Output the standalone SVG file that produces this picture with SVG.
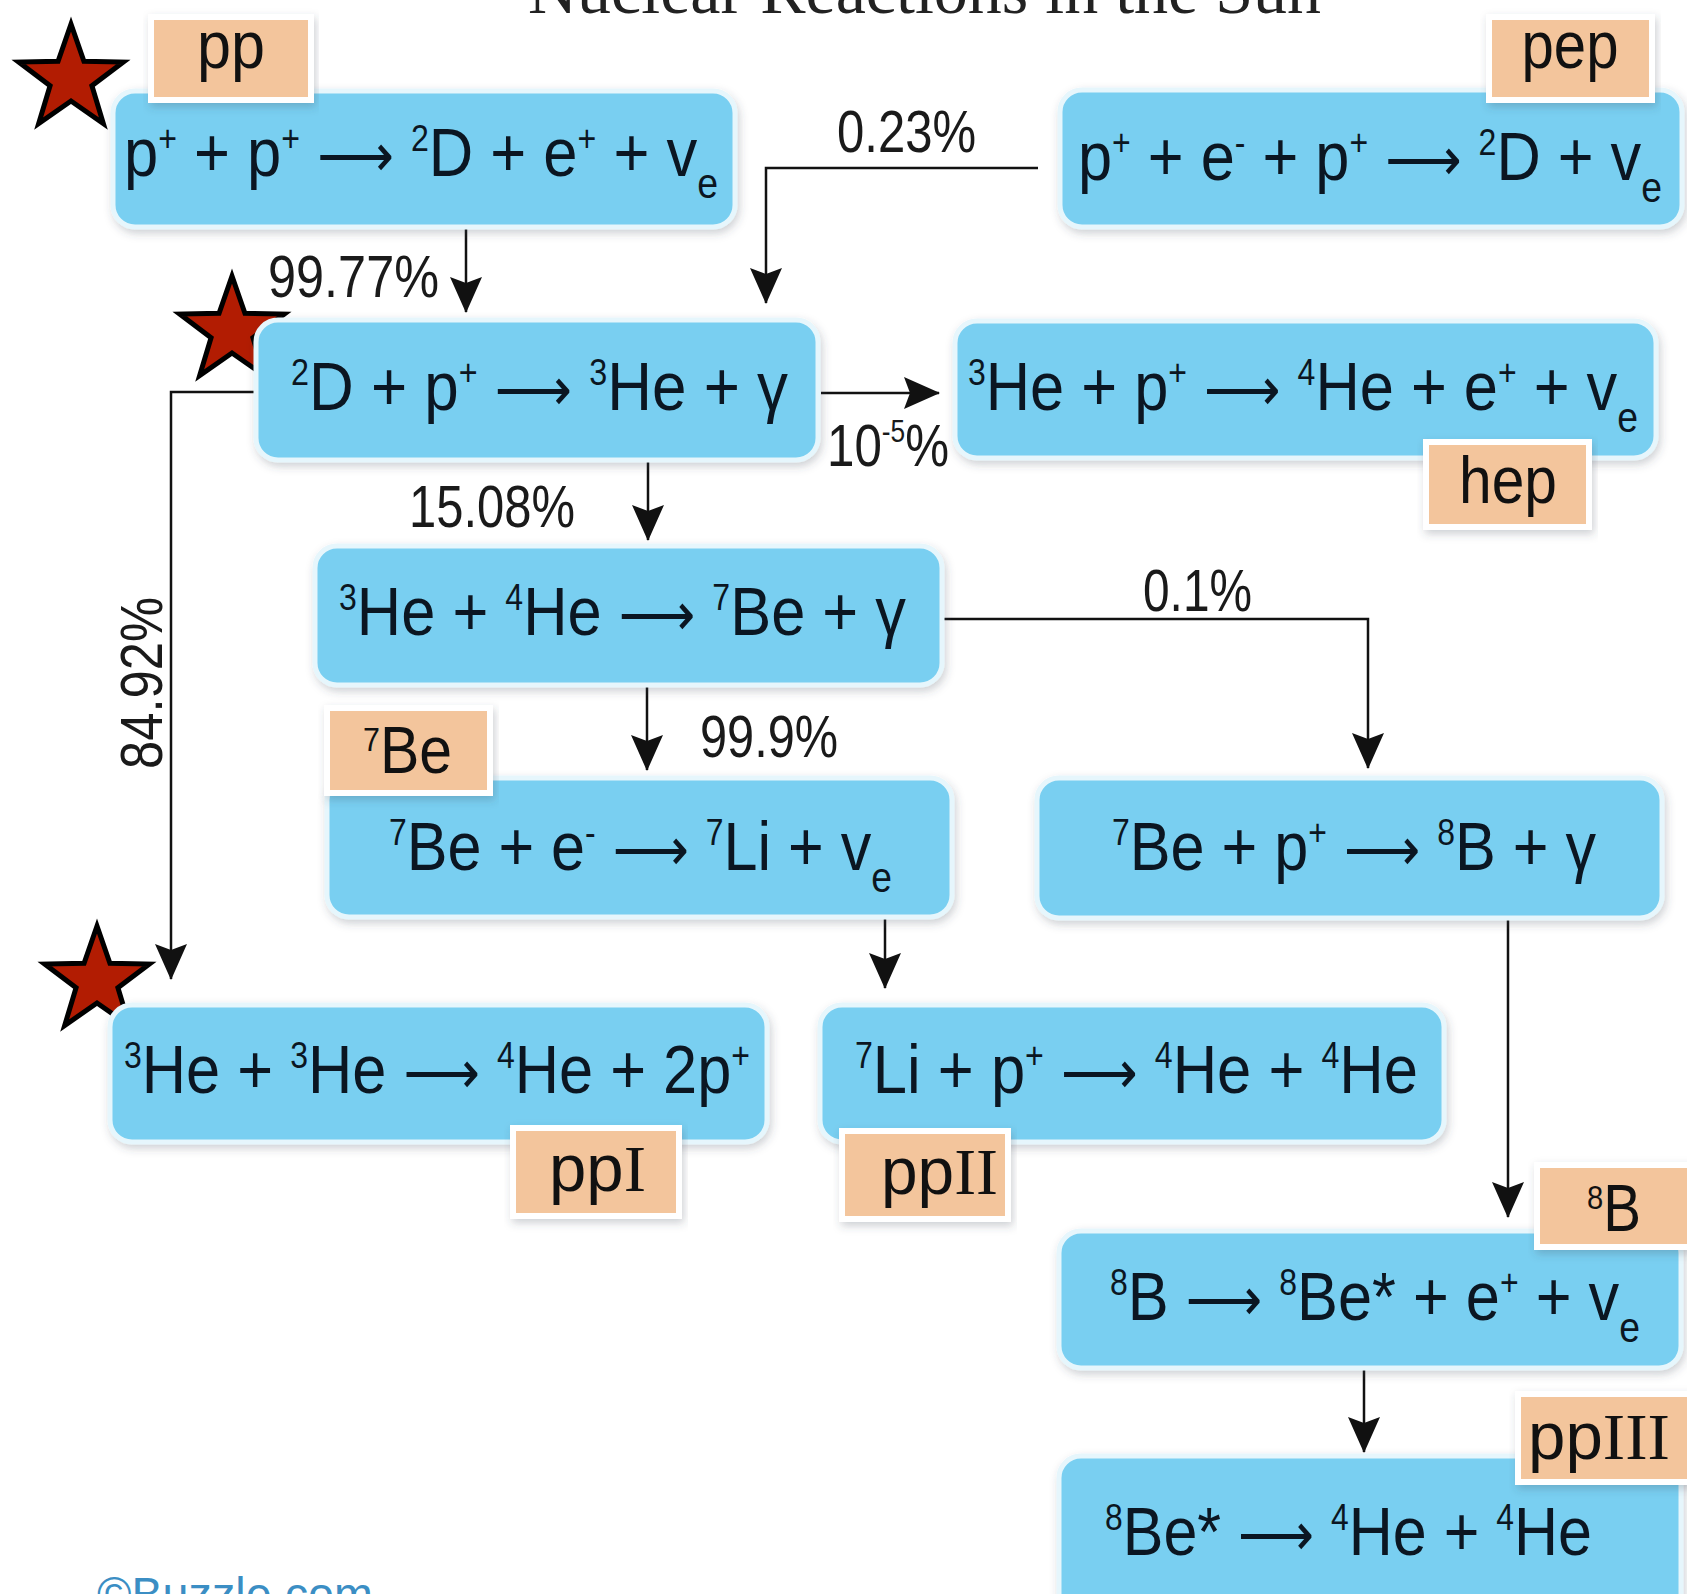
<svg xmlns="http://www.w3.org/2000/svg" width="1687" height="1594" viewBox="0 0 1687 1594">
<defs>
<filter id="sh" x="-5%" y="-10%" width="110%" height="130%">
<feDropShadow dx="2" dy="4" stdDeviation="4" flood-color="#3a4a55" flood-opacity="0.25"/>
</filter>
<marker id="ah" markerUnits="userSpaceOnUse" markerWidth="36" markerHeight="32" viewBox="0 0 36 32" refX="35" refY="16" orient="auto">
<path d="M0,0 L36,16 L0,32 L6,16 Z" fill="#111"/>
</marker>
<polygon id="star" points="0,-55 12.93,-17.8 52.31,-17 20.92,6.8 32.33,44.5 0,22 -32.33,44.5 -20.92,6.8 -52.31,-17 -12.93,-17.8" fill="#b21c02" stroke="#000" stroke-width="5" stroke-linejoin="miter"/>
</defs>
<style>
.box{fill:#79cff1;stroke:#e6f6fc;stroke-width:5;filter:url(#sh)}
.tag{fill:#f3c59c;stroke:#ffffff;stroke-width:6;filter:url(#sh)}
.t{font-family:"Liberation Sans",Arial,sans-serif;font-size:69px;fill:#0b1622}
.s{font-size:36px}
.b{font-size:42px}
.a{font-family:"DejaVu Sans","Liberation Sans",sans-serif;font-size:60px}
.g{font-family:"Liberation Sans",Arial,sans-serif;font-size:66px;fill:#111}
.r{font-family:"Liberation Serif","Times New Roman",serif}
.lb{font-family:"Liberation Sans",Arial,sans-serif;font-size:60px;fill:#1a1a1a}
.c{stroke:#111;stroke-width:2.5;fill:none;marker-end:url(#ah)}
</style>
<rect width="1687" height="1594" fill="#ffffff"/>
<text x="528" y="13" font-family="'Liberation Serif','Times New Roman',serif" font-size="68" fill="#222" textLength="793" lengthAdjust="spacingAndGlyphs">Nuclear Reactions in the Sun</text>

<g id="connectors">
<path class="c" d="M466,228 V312"/>
<path class="c" d="M1038,168 H766 V303"/>
<path class="c" d="M821,393 H939"/>
<path class="c" d="M255,392 H171 V979"/>
<path class="c" d="M648,462 V540"/>
<path class="c" d="M647,687 V770"/>
<path class="c" d="M944,619 H1368 V768"/>
<path class="c" d="M885,918 V988"/>
<path class="c" d="M1508,920 V1217"/>
<path class="c" d="M1364,1370 V1452"/>
<text class="lb" x="268" y="297" textLength="171" lengthAdjust="spacingAndGlyphs">99.77%</text>
<text class="lb" x="837" y="152" textLength="139" lengthAdjust="spacingAndGlyphs">0.23%</text>
<text class="lb" x="827" y="466" textLength="122" lengthAdjust="spacingAndGlyphs">10<tspan font-size="32" dy="-24">-5</tspan><tspan dy="24">%</tspan></text>
<text class="lb" x="409" y="527" textLength="166" lengthAdjust="spacingAndGlyphs">15.08%</text>
<text class="lb" x="700" y="757" textLength="138" lengthAdjust="spacingAndGlyphs">99.9%</text>
<text class="lb" x="1143" y="611" textLength="109" lengthAdjust="spacingAndGlyphs">0.1%</text>
<text class="lb" transform="translate(162,683) rotate(-90)" text-anchor="middle" textLength="172" lengthAdjust="spacingAndGlyphs">84.92%</text>
</g>

<g id="star-pp"><use href="#star" transform="translate(71,79)"/></g>
<g id="star-d"><use href="#star" transform="translate(232,331)"/></g>
<g id="star-he3"><use href="#star" transform="translate(97,981)"/></g>

<g id="node-pp">
<rect class="box" x="113" y="91" width="622" height="136" rx="22"/>
<rect class="tag" x="151" y="17" width="160" height="83"/>
<text class="g" x="231" y="68" text-anchor="middle" textLength="68" lengthAdjust="spacingAndGlyphs">pp</text>
<text class="t" x="124" y="176" textLength="594" lengthAdjust="spacingAndGlyphs">p<tspan class="s" dy="-25">+</tspan><tspan dy="25"> + p</tspan><tspan class="s" dy="-25">+</tspan><tspan dy="25"> </tspan><tspan class="a">⟶</tspan><tspan> </tspan><tspan class="s" dy="-25">2</tspan><tspan dy="25">D + e</tspan><tspan class="s" dy="-25">+</tspan><tspan dy="25"> + v</tspan><tspan class="b" dy="22">e</tspan></text>
</g>

<g id="node-pep">
<rect class="box" x="1060" y="90" width="622" height="137" rx="22"/>
<rect class="tag" x="1489" y="17" width="163" height="83"/>
<text class="g" x="1570" y="68" text-anchor="middle" textLength="97" lengthAdjust="spacingAndGlyphs">pep</text>
<text class="t" x="1078" y="180" textLength="584" lengthAdjust="spacingAndGlyphs">p<tspan class="s" dy="-25">+</tspan><tspan dy="25"> + e</tspan><tspan class="s" dy="-25">-</tspan><tspan dy="25"> + p</tspan><tspan class="s" dy="-25">+</tspan><tspan dy="25"> </tspan><tspan class="a">⟶</tspan><tspan> </tspan><tspan class="s" dy="-25">2</tspan><tspan dy="25">D + v</tspan><tspan class="b" dy="22">e</tspan></text>
</g>

<g id="node-d">
<rect class="box" x="256" y="320" width="562" height="140" rx="22"/>
<text class="t" x="291" y="410" textLength="497" lengthAdjust="spacingAndGlyphs"><tspan class="s" dy="-25">2</tspan><tspan dy="25">D + p</tspan><tspan class="s" dy="-25">+</tspan><tspan dy="25"> </tspan><tspan class="a">⟶</tspan><tspan> </tspan><tspan class="s" dy="-25">3</tspan><tspan dy="25">He + γ</tspan></text>
</g>

<g id="node-hep">
<rect class="box" x="955" y="321" width="701" height="137" rx="22"/>
<rect class="tag" x="1426" y="442" width="163" height="85"/>
<text class="g" x="1508" y="503" text-anchor="middle" textLength="98" lengthAdjust="spacingAndGlyphs">hep</text>
<text class="t" x="968" y="410" textLength="670" lengthAdjust="spacingAndGlyphs"><tspan class="s" dy="-25">3</tspan><tspan dy="25">He + p</tspan><tspan class="s" dy="-25">+</tspan><tspan dy="25"> </tspan><tspan class="a">⟶</tspan><tspan> </tspan><tspan class="s" dy="-25">4</tspan><tspan dy="25">He + e</tspan><tspan class="s" dy="-25">+</tspan><tspan dy="25"> + v</tspan><tspan class="b" dy="22">e</tspan></text>
</g>

<g id="node-be7">
<rect class="box" x="315" y="546" width="627" height="139" rx="22"/>
<text class="t" x="339" y="635" textLength="567" lengthAdjust="spacingAndGlyphs"><tspan class="s" dy="-25">3</tspan><tspan dy="25">He + </tspan><tspan class="s" dy="-25">4</tspan><tspan dy="25">He </tspan><tspan class="a">⟶</tspan><tspan> </tspan><tspan class="s" dy="-25">7</tspan><tspan dy="25">Be + γ</tspan></text>
</g>

<g id="node-li7">
<rect class="box" x="327" y="778" width="625" height="139" rx="22"/>
<rect class="tag" x="327" y="708" width="163" height="85"/>
<text class="g" x="363" y="773" textLength="89" lengthAdjust="spacingAndGlyphs"><tspan font-size="34" dy="-22">7</tspan><tspan dy="22">Be</tspan></text>
<text class="t" x="389" y="870" textLength="503" lengthAdjust="spacingAndGlyphs"><tspan class="s" dy="-25">7</tspan><tspan dy="25">Be + e</tspan><tspan class="s" dy="-25">-</tspan><tspan dy="25"> </tspan><tspan class="a">⟶</tspan><tspan> </tspan><tspan class="s" dy="-25">7</tspan><tspan dy="25">Li + v</tspan><tspan class="b" dy="22">e</tspan></text>
</g>

<g id="node-b8">
<rect class="box" x="1037" y="778" width="625" height="140" rx="22"/>
<text class="t" x="1112" y="870" textLength="484" lengthAdjust="spacingAndGlyphs"><tspan class="s" dy="-25">7</tspan><tspan dy="25">Be + p</tspan><tspan class="s" dy="-25">+</tspan><tspan dy="25"> </tspan><tspan class="a">⟶</tspan><tspan> </tspan><tspan class="s" dy="-25">8</tspan><tspan dy="25">B + γ</tspan></text>
</g>

<g id="node-ppI">
<rect class="box" x="110" y="1005" width="657" height="137" rx="22"/>
<rect class="tag" x="513" y="1128" width="166" height="88"/>
<text class="g" x="549" y="1191" textLength="97" lengthAdjust="spacingAndGlyphs">pp<tspan class="r">I</tspan></text>
<text class="t" x="124" y="1093" textLength="626" lengthAdjust="spacingAndGlyphs"><tspan class="s" dy="-25">3</tspan><tspan dy="25">He + </tspan><tspan class="s" dy="-25">3</tspan><tspan dy="25">He </tspan><tspan class="a">⟶</tspan><tspan> </tspan><tspan class="s" dy="-25">4</tspan><tspan dy="25">He + 2p</tspan><tspan class="s" dy="-25">+</tspan></text>
</g>

<g id="node-ppII">
<rect class="box" x="820" y="1005" width="624" height="137" rx="22"/>
<rect class="tag" x="842" y="1131" width="166" height="88"/>
<text class="g" x="881" y="1194" textLength="117" lengthAdjust="spacingAndGlyphs">pp<tspan class="r">II</tspan></text>
<text class="t" x="855" y="1093" textLength="563" lengthAdjust="spacingAndGlyphs"><tspan class="s" dy="-25">7</tspan><tspan dy="25">Li + p</tspan><tspan class="s" dy="-25">+</tspan><tspan dy="25"> </tspan><tspan class="a">⟶</tspan><tspan> </tspan><tspan class="s" dy="-25">4</tspan><tspan dy="25">He + </tspan><tspan class="s" dy="-25">4</tspan><tspan dy="25">He</tspan></text>
</g>

<g id="node-b8decay">
<rect class="box" x="1059" y="1231" width="622" height="137" rx="22"/>
<rect class="tag" x="1537" y="1165" width="170" height="82"/>
<text class="g" x="1587" y="1231" textLength="54" lengthAdjust="spacingAndGlyphs"><tspan font-size="34" dy="-22">8</tspan><tspan dy="22">B</tspan></text>
<text class="t" x="1110" y="1320" textLength="530" lengthAdjust="spacingAndGlyphs"><tspan class="s" dy="-25">8</tspan><tspan dy="25">B </tspan><tspan class="a">⟶</tspan><tspan> </tspan><tspan class="s" dy="-25">8</tspan><tspan dy="25">Be* + e</tspan><tspan class="s" dy="-25">+</tspan><tspan dy="25"> + v</tspan><tspan class="b" dy="22">e</tspan></text>
</g>

<g id="node-ppIII">
<rect class="box" x="1059" y="1456" width="622" height="170" rx="22"/>
<rect class="tag" x="1518" y="1394" width="180" height="88"/>
<text class="g" x="1528" y="1459" textLength="142" lengthAdjust="spacingAndGlyphs">pp<tspan class="r">III</tspan></text>
<text class="t" x="1105" y="1555" textLength="487" lengthAdjust="spacingAndGlyphs"><tspan class="s" dy="-25">8</tspan><tspan dy="25">Be* </tspan><tspan class="a">⟶</tspan><tspan> </tspan><tspan class="s" dy="-25">4</tspan><tspan dy="25">He + </tspan><tspan class="s" dy="-25">4</tspan><tspan dy="25">He</tspan></text>
</g>

<text x="97" y="1611" font-family="'Liberation Sans',Arial,sans-serif" font-size="48" fill="#3b8ec4" textLength="276" lengthAdjust="spacingAndGlyphs">©Buzzle.com</text>
</svg>
